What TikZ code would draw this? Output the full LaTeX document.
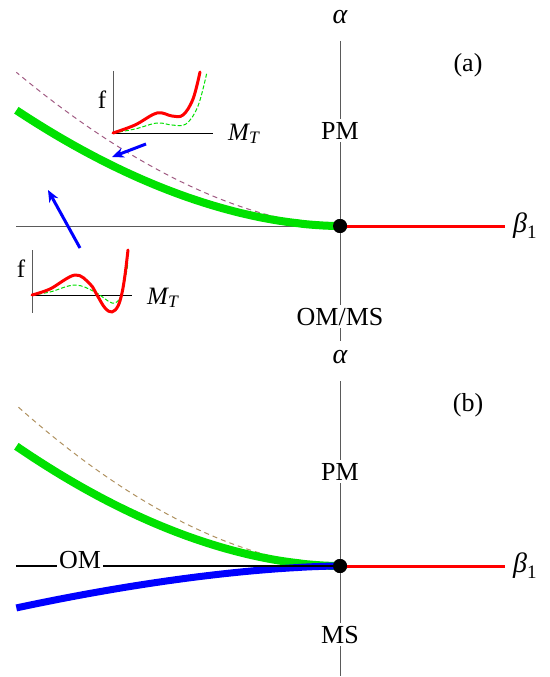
\documentclass[tikz,border=0pt]{standalone}
\usepackage{fontspec}
\setmainfont{Liberation Serif}
\usetikzlibrary{arrows.meta}
\definecolor{cgreen}{RGB}{0,225,0}
\definecolor{cred}{RGB}{255,0,0}
\definecolor{cblue}{RGB}{0,0,255}
\definecolor{dasha}{RGB}{160,90,130}
\definecolor{dashb}{RGB}{175,145,95}
\definecolor{axgray}{RGB}{90,90,90}
\newcommand{\betaone}{{\itshape β}\raisebox{-0.22em}{\fontsize{19}{21}\selectfont 1}}
\tikzset{
  axisline/.style={draw=axgray, line width=1pt},
  hline/.style={draw=black, line width=1.1pt},
  redline/.style={draw=cred, line width=3pt},
  greenline/.style={draw=cgreen, line width=8pt},
  blueline/.style={draw=cblue, line width=7pt},
  guide/.style={line width=1pt, dash pattern=on 5pt off 4pt},
  lab/.style={font=\fontsize{26}{30}\selectfont, inner sep=1pt},
  gaplab/.style={lab, fill=white, inner sep=3pt, anchor=base},
  greeklab/.style={font=\fontsize{28}{32}\selectfont, inner sep=1pt},
  inlab/.style={font=\fontsize{25}{29}\selectfont, inner sep=1pt},
  inaxis/.style={draw=axgray, line width=1pt},
  inbase/.style={draw=black, line width=1pt},
  inred/.style={draw=cred, line width=3pt, line cap=round, line join=round},
  ingreen/.style={draw=cgreen, line width=1pt, dash pattern=on 4pt off 2pt},
  flow/.style={draw=cblue, line width=3pt, -{Stealth[length=12pt,width=10pt]}},
  dotnode/.style={circle, fill=black, minimum size=14pt, inner sep=0pt}
}
\begin{document}
\begin{tikzpicture}[x=1pt, y=-1pt]
\useasboundingbox (0,0) rectangle (549,677);
% ================= panel (a) =================
\coordinate (atop) at (340,41);
\coordinate (abot) at (340,341);
\coordinate (aleft) at (16,226);
\coordinate (aright) at (505,226);
\node[dotnode] (ao) at (340,226) {};
\draw[axisline] (atop) -- (abot);
\draw[axisline] (aleft) -- (ao.center);
\draw[dasha, guide] plot[domain=0.002:1, samples=80, variable=\u] ({340-324*\u},{226-154*(\u)^1.75});
\draw[greenline] plot[domain=0.002:1, samples=80, variable=\u] ({340-324*\u},{226-116*(\u)^1.85});
\draw[redline] (ao.center) -- (aright);
\node[dotnode] at (ao) {};
\node[greeklab] (aalpha) at (340,17) {\itshape α};
\node[greeklab, anchor=base west] (abeta) at (512,232) {\betaone};
\node[gaplab] (apm) at (340,139) {PM};
\node[gaplab] (aoms) at (340,325) {OM/MS};
\node[lab] (atag) at (468,65) {(a)};
% inset 1
\coordinate (i1o) at (113,133);
\coordinate (i1t) at (113,71);
\coordinate (i1r) at (213,133);
\draw[inaxis] (i1t) -- (i1o);
\draw[inbase] (i1o) -- (i1r);
\draw[ingreen] plot[smooth, tension=0.6] coordinates {(113,133) (135,129) (157,123) (172,125) (186,124) (198,106) (207,72)};
\draw[inred] plot[smooth, tension=0.6] coordinates {(113,133) (135,125) (157,113) (172,116) (183,115) (193,99) (200,72)};
\node[inlab, anchor=base] (i1f) at (102,108) {f};
\node[inlab, anchor=base west] (i1m) at (227,140) {\itshape M\textsubscript{T}};
% inset 2
\coordinate (i2o) at (32,295);
\coordinate (i2t) at (32,250);
\coordinate (i2b) at (32,313);
\coordinate (i2r) at (132,295);
\draw[inaxis] (i2t) -- (i2b);
\draw[inbase] (i2o) -- (i2r);
\draw[ingreen] plot[smooth, tension=0.6] coordinates {(32,295) (50,292) (75,285) (95,292) (112,303) (120,298) (124,285) (128,263)};
\draw[inred] plot[smooth, tension=0.6] coordinates {(32,295) (50,289) (75,275) (90,284) (97,295) (105,308) (112,312) (118,306) (122,293) (125,275) (128,250)};
\node[inlab, anchor=base] (i2f) at (21,277) {f};
\node[inlab, anchor=base west] (i2m) at (146,304) {\itshape M\textsubscript{T}};
% arrows
\coordinate (ar1s) at (146,144);
\coordinate (ar1e) at (112,157);
\coordinate (ar2s) at (80,248);
\coordinate (ar2e) at (48,190);
\draw[flow] (ar1s) -- (ar1e);
\draw[flow] (ar2s) -- (ar2e);
% ================= panel (b) =================
\coordinate (btop) at (340,381);
\coordinate (bbot) at (340,676);
\coordinate (bleft) at (16,566);
\coordinate (bright) at (505,566);
\node[dotnode] (bo) at (340,566) {};
\draw[axisline] (btop) -- (bbot);
\draw[dashb, guide] plot[domain=0.002:1, samples=80, variable=\u] ({340-324*\u},{566-161*(\u)^1.8});
\draw[greenline] plot[domain=0.002:1, samples=80, variable=\u] ({340-324*\u},{566-120*(\u)^1.85});
\draw[blueline] plot[domain=0.002:1, samples=80, variable=\u] ({340-324*\u},{566+42*(\u)^1.65});
\draw[hline] (bleft) -- (bo.center);
\draw[redline] (bo.center) -- (bright);
\node[dotnode] at (bo) {};
\node[greeklab] (balpha) at (340,357) {\itshape α};
\node[greeklab, anchor=base west] (bbeta) at (512,572) {\betaone};
\node[gaplab] (bpm) at (340,480) {PM};
\node[gaplab] (bms) at (340,643) {MS};
\node[gaplab, inner sep=2pt] (bom) at (80,568) {OM};
\node[lab] (btag) at (468,405) {(b)};
\end{tikzpicture}
\end{document}
